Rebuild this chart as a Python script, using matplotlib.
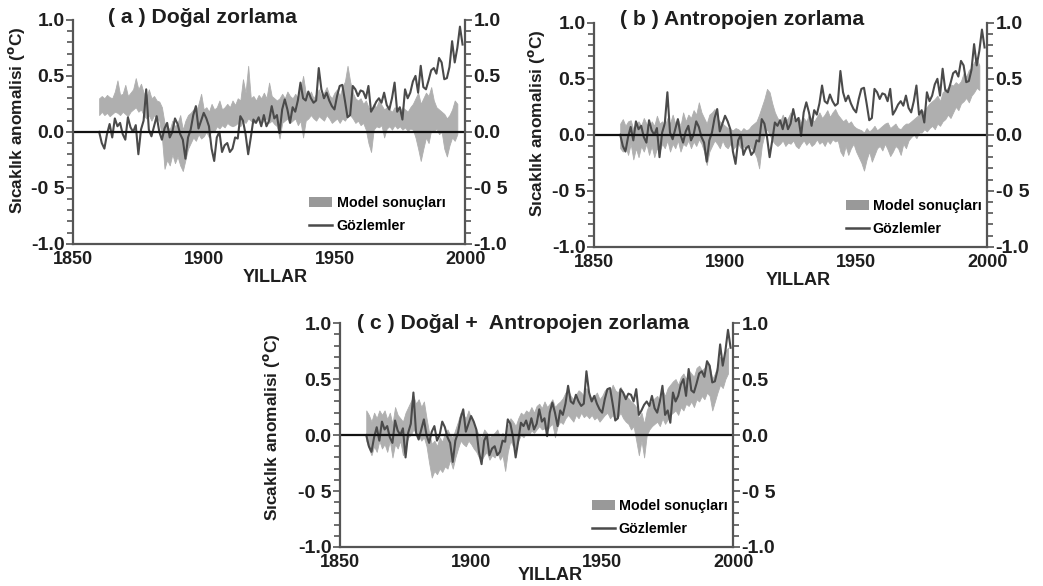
import matplotlib
matplotlib.use("Agg")
import matplotlib.pyplot as plt
from matplotlib.patches import Patch
from matplotlib.lines import Line2D
from matplotlib.ticker import MultipleLocator

plt.rcParams["font.family"] = ["Liberation Sans", "DejaVu Sans"]
plt.rcParams["font.weight"] = "bold"

# observed annual anomalies, 1860-1999
obs_years = list(range(1860, 2000))
observed = [
    0.00, -0.10, -0.15, -0.02, 0.07, -0.05, 0.12, 0.05, 0.08, -0.02,
    -0.07, 0.13, 0.04, 0.00, 0.06, -0.20, 0.02, 0.10, 0.38, 0.02,
    -0.04, 0.05, 0.14, 0.00, -0.07, 0.03, 0.08, -0.05, 0.00, 0.12,
    0.07, -0.02, -0.07, -0.24, -0.05, 0.02, 0.15, 0.23, 0.03, 0.10,
    0.17, 0.12, 0.05, -0.15, -0.26, -0.05, 0.00, -0.18, -0.12, -0.10,
    -0.18, -0.15, -0.05, -0.06, 0.14, 0.10, -0.02, -0.20, -0.05, 0.11,
    0.08, 0.13, 0.05, 0.15, 0.05, 0.10, 0.23, 0.12, 0.15, -0.01,
    0.20, 0.29, 0.20, 0.08, 0.22, 0.18, 0.28, 0.44, 0.30, 0.28,
    0.36, 0.30, 0.26, 0.28, 0.57, 0.38, 0.30, 0.35, 0.28, 0.23,
    0.20, 0.32, 0.41, 0.42, 0.28, 0.13, 0.15, 0.41, 0.38, 0.32,
    0.37, 0.36, 0.30, 0.41, 0.18, 0.22, 0.27, 0.30, 0.26, 0.35,
    0.24, 0.20, 0.30, 0.44, 0.18, 0.22, 0.11, 0.38, 0.30, 0.35,
    0.45, 0.50, 0.35, 0.59, 0.40, 0.38, 0.46, 0.55, 0.57, 0.52,
    0.66, 0.62, 0.47, 0.48, 0.58, 0.81, 0.62, 0.75, 0.94, 0.78,
]

# (a) natural forcing model range, 1860-1997
a_years = list(range(1860, 1998))
a_low = [
    0.15, 0.18, 0.15, 0.17, 0.14, 0.16, 0.18, 0.17, 0.15, 0.18,
    0.16, 0.14, 0.18, 0.20, 0.22, 0.18, 0.20, 0.15, 0.12, 0.15,
    0.10, 0.15, 0.12, 0.10, -0.05, -0.33, -0.25, -0.30, -0.20, -0.28,
    -0.22, -0.30, -0.35, -0.25, -0.15, -0.10, -0.05, -0.08, -0.02, -0.06,
    -0.04, 0.00, -0.05, 0.02, 0.00, 0.05, 0.03, 0.06, 0.04, 0.08,
    0.06, 0.05, 0.06, 0.08, 0.05, 0.10, 0.08, 0.12, 0.10, 0.08,
    0.10, 0.12, 0.08, 0.10, 0.12, 0.08, 0.10, 0.07, 0.05, -0.06,
    0.08, 0.10, 0.12, 0.08, 0.10, 0.12, 0.06, 0.10, -0.05, 0.10,
    0.12, 0.15, 0.12, 0.10, 0.14, 0.12, 0.10, 0.15, 0.12, 0.08,
    0.10, 0.12, 0.08, 0.12, 0.10, 0.14, 0.15, 0.12, 0.08, 0.10,
    0.06, 0.08, 0.02, -0.10, -0.18, 0.02, 0.05, 0.04, 0.06, -0.05,
    0.03, 0.05, 0.02, 0.06, 0.03, 0.05, 0.02, 0.04, 0.01, 0.03,
    0.02, -0.05, -0.15, -0.26, -0.15, -0.05, -0.10, 0.02, 0.00, 0.03,
    -0.02, 0.00, -0.15, -0.22, -0.12, -0.05, -0.08, -0.02,
]
a_high = [
    0.30, 0.32, 0.30, 0.33, 0.31, 0.30, 0.36, 0.46, 0.33, 0.34,
    0.42, 0.32, 0.35, 0.38, 0.48, 0.38, 0.43, 0.35, 0.30, 0.38,
    0.30, 0.32, 0.28, 0.27, 0.22, 0.08, 0.05, 0.02, 0.10, 0.05,
    0.08, 0.15, 0.02, 0.10, 0.15, 0.17, 0.20, 0.18, 0.25, 0.34,
    0.20, 0.22, 0.18, 0.25, 0.20, 0.22, 0.28, 0.20, 0.22, 0.25,
    0.22, 0.28, 0.24, 0.30, 0.28, 0.47, 0.35, 0.59, 0.30, 0.32,
    0.28, 0.33, 0.30, 0.35, 0.30, 0.44, 0.32, 0.30, 0.28, 0.30,
    0.34, 0.30, 0.36, 0.32, 0.30, 0.34, 0.30, 0.38, 0.50, 0.35,
    0.32, 0.36, 0.30, 0.34, 0.38, 0.32, 0.35, 0.40, 0.33, 0.30,
    0.35, 0.38, 0.32, 0.40, 0.45, 0.59, 0.45, 0.35, 0.30, 0.28,
    0.30, 0.25, 0.28, 0.22, 0.20, 0.25, 0.22, 0.28, 0.24, 0.20,
    0.22, 0.20, 0.18, 0.22, 0.20, 0.18, 0.22, 0.20, 0.18, 0.22,
    0.25, 0.30, 0.35, 0.25, 0.30, 0.35, 0.32, 0.40, 0.28, 0.22,
    0.20, 0.18, 0.16, 0.12, 0.15, 0.20, 0.28, 0.25,
]

# (b) anthropogenic forcing model range, 1860-1997
b_years = list(range(1860, 1998))
b_low = [
    -0.12, -0.15, -0.10, -0.18, -0.08, -0.22, -0.12, -0.20, -0.10, -0.15,
    -0.08, -0.18, -0.10, -0.20, -0.12, -0.15, -0.08, -0.12, -0.05, -0.15,
    -0.08, -0.12, -0.05, -0.15, -0.08, -0.10, -0.05, -0.12, -0.06, -0.10,
    -0.04, -0.08, -0.15, -0.27, -0.15, -0.10, -0.05, -0.08, -0.12, -0.05,
    -0.10, -0.12, -0.08, -0.13, -0.10, -0.08, -0.12, -0.10, -0.13, -0.08,
    -0.12, -0.15, -0.20, -0.30, -0.10, 0.00, 0.05, 0.00, -0.05, -0.08,
    -0.10, -0.08, -0.05, -0.10, -0.07, -0.08, -0.05, -0.10, -0.12, -0.08,
    -0.05, -0.09, -0.06, -0.10, -0.08, -0.04, -0.08, -0.06, -0.10, -0.05,
    -0.08, -0.04, -0.06, -0.05, -0.15, -0.19, -0.10, -0.18, -0.12, -0.08,
    -0.15, -0.20, -0.25, -0.32, -0.22, -0.15, -0.24, -0.18, -0.12, -0.10,
    -0.14, -0.08, -0.13, -0.19, -0.15, -0.10, -0.12, -0.18, -0.08, -0.12,
    -0.05, -0.02, 0.00, -0.03, 0.02, 0.02, 0.05, 0.03, 0.06, 0.08,
    0.05, 0.10, 0.08, 0.12, 0.14, 0.18, 0.15, 0.20, 0.25, 0.22,
    0.28, 0.30, 0.33, 0.29, 0.35, 0.38, 0.42, 0.40,
]
b_high = [
    0.10, 0.14, 0.08, 0.12, 0.13, 0.05, 0.10, 0.12, 0.08, 0.15,
    0.10, 0.06, 0.12, 0.08, 0.17, 0.10, 0.12, 0.08, 0.15, 0.10,
    0.18, 0.10, 0.14, 0.08, 0.20, 0.12, 0.18, 0.15, 0.22, 0.18,
    0.29, 0.20, 0.15, 0.10, 0.18, 0.20, 0.23, 0.15, 0.12, 0.10,
    0.08, 0.06, 0.05, 0.04, 0.06, 0.05, 0.03, 0.06, 0.04, 0.05,
    0.08, 0.10, 0.12, 0.18, 0.25, 0.32, 0.41, 0.38, 0.28, 0.20,
    0.15, 0.12, 0.18, 0.12, 0.15, 0.20, 0.14, 0.12, 0.16, 0.11,
    0.15, 0.12, 0.18, 0.14, 0.12, 0.16, 0.20, 0.15, 0.18, 0.22,
    0.16, 0.20, 0.23, 0.18, 0.15, 0.12, 0.14, 0.10, 0.12, 0.08,
    0.06, 0.05, 0.04, 0.02, 0.06, 0.03, 0.05, 0.08, 0.04, 0.06,
    0.08, 0.10, 0.11, 0.06, 0.08, 0.10, 0.06, 0.05, 0.08, 0.10,
    0.10, 0.12, 0.14, 0.16, 0.18, 0.20, 0.22, 0.25, 0.28, 0.30,
    0.32, 0.35, 0.30, 0.38, 0.40, 0.42, 0.45, 0.44, 0.47, 0.45,
    0.48, 0.55, 0.52, 0.58, 0.60, 0.65, 0.68, 0.62,
]

# (c) natural + anthropogenic model range, 1860-1998
c_years = list(range(1860, 1999))
c_low = [
    -0.05, -0.12, -0.18, -0.10, -0.15, -0.05, -0.12, -0.08, -0.15, -0.05,
    -0.20, -0.08, -0.12, -0.05, -0.18, -0.10, -0.02, 0.00, 0.05, 0.02,
    0.00, -0.05, -0.02, -0.10, -0.25, -0.38, -0.32, -0.35, -0.30, -0.33,
    -0.28, -0.30, -0.22, -0.30, -0.20, -0.12, -0.05, -0.08, -0.10, -0.05,
    -0.08, -0.12, -0.15, -0.20, -0.22, -0.18, -0.15, -0.22, -0.18, -0.20,
    -0.15, -0.22, -0.18, -0.32, -0.15, -0.05, -0.10, -0.12, -0.05, 0.00,
    -0.02, 0.02, 0.00, 0.04, 0.02, 0.05, 0.08, 0.05, 0.06, 0.04,
    0.08, 0.10, -0.02, 0.08, 0.12, 0.10, 0.15, 0.18, 0.15, 0.12,
    0.18, 0.15, 0.20, 0.16, 0.18, 0.15, 0.18, 0.14, 0.16, 0.12,
    0.15, 0.18, 0.20, 0.15, 0.18, 0.14, 0.16, 0.20, 0.15, 0.12,
    0.10, 0.05, 0.08, -0.05, -0.18, -0.05, -0.20, 0.00, 0.05, 0.08,
    0.10, 0.12, 0.08, 0.15, 0.10, 0.14, 0.18, 0.20, 0.22, 0.18,
    0.25, 0.22, 0.28, 0.26, 0.30, 0.25, 0.32, 0.30, 0.35, 0.32,
    0.38, 0.35, 0.22, 0.30, 0.38, 0.45, 0.42, 0.50, 0.55,
]
c_high = [
    0.22, 0.18, 0.12, 0.20, 0.15, 0.22, 0.18, 0.22, 0.14, 0.20,
    0.10, 0.25, 0.18, 0.15, 0.12, 0.20, 0.25, 0.30, 0.35, 0.28,
    0.32, 0.25, 0.30, 0.15, 0.02, -0.08, -0.05, -0.10, -0.02, -0.06,
    0.02, 0.05, 0.00, -0.02, 0.05, 0.12, 0.20, 0.18, 0.15, 0.22,
    0.15, 0.10, 0.05, 0.00, -0.02, 0.05, 0.02, -0.02, 0.00, 0.02,
    0.05, -0.02, 0.02, -0.05, 0.08, 0.15, 0.12, 0.08, 0.15, 0.20,
    0.18, 0.22, 0.20, 0.25, 0.20, 0.26, 0.28, 0.24, 0.30, 0.25,
    0.28, 0.32, 0.25, 0.28, 0.30, 0.33, 0.38, 0.40, 0.35, 0.32,
    0.36, 0.40, 0.38, 0.35, 0.42, 0.36, 0.33, 0.35, 0.38, 0.32,
    0.35, 0.40, 0.42, 0.38, 0.45, 0.40, 0.38, 0.43, 0.38, 0.35,
    0.33, 0.30, 0.28, 0.25, 0.15, 0.20, 0.10, 0.22, 0.28, 0.30,
    0.33, 0.35, 0.30, 0.40, 0.35, 0.42, 0.45, 0.48, 0.50, 0.45,
    0.52, 0.55, 0.50, 0.58, 0.55, 0.52, 0.60, 0.62, 0.58, 0.60,
    0.65, 0.62, 0.50, 0.55, 0.62, 0.70, 0.65, 0.75, 0.78,
]

y_ticks = [1.0, 0.5, 0.0, -0.5, -1.0]
y_tick_labels = ["1.0", "0.5", "0.0", "-0 5", "-1.0"]
x_ticks = [1850, 1900, 1950, 2000]

# title, years, low, high, axes rect, title x, legend x, ylabel (x, y), xlabel (x, y), title y
panels = [
    ("( a ) Doğal zorlama", a_years, a_low, a_high,
     [0.070, 0.584, 0.376, 0.382], 0.089, 0.603, (-0.118, 0.55), (0.515, -0.112), 1.013),
    ("( b ) Antropojen zorlama", b_years, b_low, b_high,
     [0.5695, 0.579, 0.377, 0.382], 0.066, 0.64, (-0.12, 0.55), (0.52, -0.112), 1.013),
    ("( c ) Doğal +  Antropojen zorlama", c_years, c_low, c_high,
     [0.326, 0.0666, 0.377, 0.382], 0.043, 0.64, (-0.148, 0.535), (0.534, -0.088), 1.0),
]

band_color = "#afafaf"
line_color = "#4a4a4a"
spine_color = "#555555"
text_color = "#1e1e1e"

fig = plt.figure(figsize=(10.43, 5.86), dpi=100)

for title, years, low, high, rect, title_x, leg_x, ylab_xy, xlab_xy, title_y in panels:
    ax = fig.add_axes(rect)
    ax.fill_between(years, low, high, color=band_color, linewidth=0.6, edgecolor=band_color)
    ax.plot(obs_years, observed, color=line_color, linewidth=1.5)
    ax.axhline(0, color="#111111", linewidth=1.6)

    ax.set_xlim(1850, 2000)
    ax.set_ylim(-1.0, 1.0)
    ax.spines["top"].set_visible(False)
    for side in ["left", "right", "bottom"]:
        ax.spines[side].set_color(spine_color)
        ax.spines[side].set_linewidth(1.6)

    ax.set_yticks(y_ticks)
    ax.set_yticklabels(y_tick_labels)
    ax.yaxis.set_minor_locator(MultipleLocator(0.1))
    ax.tick_params(axis="y", which="both", left=True, right=True,
                   labelleft=True, labelright=True, direction="out",
                   color=spine_color, width=1.2, labelsize=14,
                   labelcolor=text_color, pad=1)
    ax.tick_params(axis="y", which="major", length=5)
    ax.tick_params(axis="y", which="minor", length=4)
    ax.set_xticks(x_ticks)
    ax.tick_params(axis="x", length=0, labelsize=13, labelcolor=text_color, pad=5)
    for lab in ax.get_xticklabels() + ax.get_yticklabels():
        lab.set_fontweight("bold")

    ax.set_xlabel("YILLAR", fontsize=13, fontweight="bold", color=text_color)
    ax.xaxis.set_label_coords(*xlab_xy)
    ax.set_ylabel("Sıcaklık anomalisi ($^{\\mathbf{o}}$C)", fontsize=12.4,
                  fontweight="bold", color=text_color)
    ax.yaxis.set_label_coords(*ylab_xy)
    ax.text(title_x, title_y, title, transform=ax.transAxes, fontsize=15.3,
            fontweight="bold", color=text_color, va="center", ha="left")

    handles = [
        Patch(facecolor="#999999", edgecolor="none"),
        Line2D([0], [0], color=line_color, linewidth=1.8),
    ]
    ax.legend(handles, ["Model sonuçları", "Gözlemler"], loc="lower left",
              bbox_to_anchor=(leg_x, 0.05), frameon=False,
              borderpad=0, borderaxespad=0,
              handlelength=1.6, handleheight=0.7, handletextpad=0.3,
              labelspacing=0.6, prop={"weight": "bold", "size": 10.3})

fig.savefig("out.png", dpi=100)
